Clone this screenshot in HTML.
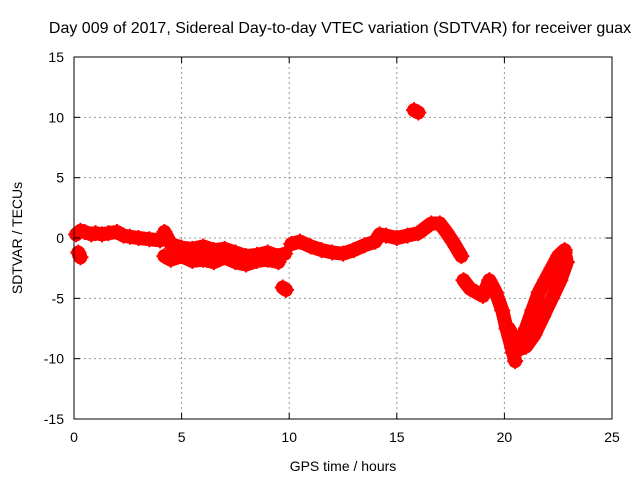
<!DOCTYPE html>
<html><head><meta charset="utf-8"><style>
body{margin:0;background:#fff}
svg{display:block;font-family:"Liberation Sans",sans-serif}
</style></head><body>
<svg id="chart" width="640" height="480">
<rect width="640" height="480" fill="#fff"/>
<text x="340" y="33" font-size="16" text-anchor="middle">Day 009 of 2017, Sidereal Day-to-day VTEC variation (SDTVAR) for receiver guax</text>
<text x="343" y="471" font-size="14" text-anchor="middle">GPS time / hours</text>
<text x="22" y="238" font-size="14" text-anchor="middle" transform="rotate(-90 22 238)">SDTVAR / TECUs</text>
<g id="grid"></g>
<g id="marks"></g>
<rect x="74" y="57" width="538" height="362" fill="none" stroke="#000" stroke-width="1"/>
<g id="ticks"></g>
</svg>
<script>
const xTicks=[0,5,10,15,20,25];
const yTicks=[15,10,5,0,-5,-10,-15];
const seg1=[[0.1,0.3],[0.3,0.6],[0.5,0.5],[0.8,0.3],[1.0,0.4],[1.3,0.3],[1.6,0.4],[2.0,0.5],[2.3,0.2],[2.6,0.1],[3.0,0],[3.5,-0.1],[4.0,-0.2]];
const seg1b=[[0.2,-1.2],[0.3,-1.6]];
const seg2a=[[4.2,0.5],[4.5,-0.5],[5,-0.8],[5.5,-0.9],[6,-0.7],[6.5,-1.0],[7,-0.9],[7.5,-1.2],[8,-1.5],[8.5,-1.4],[9,-1.2],[9.5,-1.5],[9.8,-1.3]];
const seg2b=[[4.2,-1.5],[4.5,-1.8],[5,-1.5],[5.5,-1.9],[6,-1.8],[6.5,-2.0],[7,-1.6],[7.5,-2.0],[8,-2.2],[8.5,-1.9],[9,-1.8],[9.5,-2.0]];
const seg2c=[[9.7,-4.1],[9.85,-4.3]];
const seg3=[[10.1,-0.5],[10.5,-0.3],[11,-0.7],[11.5,-1.0],[12,-1.2],[12.5,-1.3],[13,-1.0],[13.5,-0.6],[14,-0.3],[14.2,0.3],[14.5,0.2],[15,0.0],[15.5,0.2],[16,0.4],[16.3,0.8],[16.6,1.2],[17,1.2],[17.3,0.5],[17.6,-0.3],[18,-1.5]];
const seg3b=[[15.8,10.6],[16.0,10.4]];
const seg4=[[18.1,-3.5],[18.4,-4.2],[18.7,-4.5],[19,-4.8],[19.3,-3.5],[19.6,-4.5],[19.9,-6.0],[20.1,-7.5],[20.4,-9.5],[20.5,-10.2]];
const seg5=[[20.2,-7.5],[20.5,-8.5],[20.8,-8.5],[21,-7.5],[21.3,-6],[21.6,-4.5],[21.9,-3.5],[22.2,-2.5],[22.5,-1.5],[22.8,-1.0]];
const seg6=[[20.6,-9.3],[21,-9],[21.4,-8],[21.8,-6.5],[22.2,-5],[22.6,-3.5],[22.9,-2.0],[22.8,-1.2]];
const series=[seg1,seg1b,seg2a,seg2b,seg2c,seg3,seg3b,seg4,seg5,seg6];
const X=v=>74+v*538/25, Y=v=>238-v*362/30;
const NS="http://www.w3.org/2000/svg";
const g=document.getElementById('grid'),t=document.getElementById('ticks'),m=document.getElementById('marks');
function mk(tag,at,par){const e=document.createElementNS(NS,tag);for(const k in at)e.setAttribute(k,at[k]);par.appendChild(e);return e;}
xTicks.forEach(v=>{
 if(v>0&&v<25){const l=mk('line',{x1:X(v),x2:X(v),y1:57,y2:419,stroke:'#999','stroke-dasharray':'2,3'},g);
 
 }
 mk('line',{x1:X(v),x2:X(v),y1:419,y2:413,stroke:'#000'},t);
 mk('line',{x1:X(v),x2:X(v),y1:57,y2:63,stroke:'#000'},t);
 const tx=mk('text',{x:X(v),y:442,'font-size':14,'text-anchor':'middle'},t);tx.textContent=v;
 
 
});
yTicks.forEach(v=>{
 if(v>-15&&v<15){const l=mk('line',{x1:74,x2:612,y1:Y(v),y2:Y(v),stroke:'#999','stroke-dasharray':'2,3'},g);
 
 }
 mk('line',{x1:74,x2:80,y1:Y(v),y2:Y(v),stroke:'#000'},t);
 mk('line',{x1:612,x2:606,y1:Y(v),y2:Y(v),stroke:'#000'},t);
 const tx=mk('text',{x:64,y:Y(v)+5,'font-size':14,'text-anchor':'end'},t);tx.textContent=v;
 
 
});
series.forEach(s=>{
 const p=mk('polyline',{points:s.map(d=>X(d[0])+','+Y(d[1])).join(' '),fill:'none',stroke:'#f00','stroke-width':14,'stroke-linejoin':'round','stroke-linecap':'round'},m);
 
 
 s.forEach(d=>{
  const c=mk('path',{d:`M${X(d[0])-8},${Y(d[1])}h16M${X(d[0])},${Y(d[1])-8}v16`,stroke:'#f00','stroke-width':2},m);
  
  
 });
});
</script>
</body></html>
